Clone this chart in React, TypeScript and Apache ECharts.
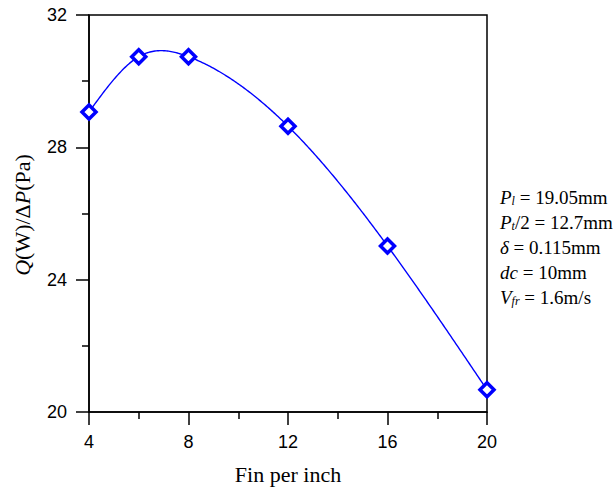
import React, { useEffect, useRef } from "react";
import * as echarts from "echarts";

const finPerInch = [4, 6, 8, 12, 16, 20];
const qOverDp = [29.07, 30.74, 30.74, 28.64, 25.02, 20.67];
const xTicks = [4, 8, 12, 16, 20];
const yTicks = [20, 24, 28, 32];

const BLUE = "#0000ff";
const SERIF = "Liberation Serif";
const SANS = "Liberation Sans";

function naturalSpline(xs: number[], ys: number[]) {
  const n = xs.length;
  const h: number[] = [];
  for (let i = 0; i < n - 1; i++) h.push(xs[i + 1] - xs[i]);
  const a: number[] = new Array(n).fill(0);
  const b: number[] = new Array(n).fill(1);
  const c: number[] = new Array(n).fill(0);
  const d: number[] = new Array(n).fill(0);
  for (let i = 1; i < n - 1; i++) {
    a[i] = h[i - 1];
    b[i] = 2 * (h[i - 1] + h[i]);
    c[i] = h[i];
    d[i] = 6 * ((ys[i + 1] - ys[i]) / h[i] - (ys[i] - ys[i - 1]) / h[i - 1]);
  }
  const cp = new Array(n).fill(0);
  const dp = new Array(n).fill(0);
  cp[0] = c[0] / b[0];
  dp[0] = d[0] / b[0];
  for (let i = 1; i < n; i++) {
    const m = b[i] - a[i] * cp[i - 1];
    cp[i] = c[i] / m;
    dp[i] = (d[i] - a[i] * dp[i - 1]) / m;
  }
  const M = new Array(n).fill(0);
  M[n - 1] = dp[n - 1];
  for (let i = n - 2; i >= 0; i--) M[i] = dp[i] - cp[i] * M[i + 1];
  return (x: number) => {
    let i = 0;
    while (i < n - 2 && x > xs[i + 1]) i++;
    const hi = h[i];
    const t1 = xs[i + 1] - x;
    const t0 = x - xs[i];
    return (
      (M[i] * t1 * t1 * t1) / (6 * hi) +
      (M[i + 1] * t0 * t0 * t0) / (6 * hi) +
      (ys[i] / hi - (M[i] * hi) / 6) * t1 +
      (ys[i + 1] / hi - (M[i + 1] * hi) / 6) * t0
    );
  };
}

export default function App() {
  const ref = useRef<HTMLDivElement>(null);
  useEffect(() => {
    if (!ref.current) return;
    const chart = echarts.init(ref.current, null, { renderer: "svg" });
    const data = finPerInch.map((x, i) => [x, qOverDp[i]]);
    const spline = naturalSpline(finPerInch, qOverDp);
    const sub = { fontFamily: SERIF, fontSize: 12, fontStyle: "italic", padding: [8, 0, 0, 0], fill: "#000" };
    const it = { fontFamily: SERIF, fontSize: 19, fontStyle: "italic", fill: "#000" };
    const nm = { fontFamily: SERIF, fontSize: 19, fill: "#000" };
    const rich = { it, sub, nm };
    const lines = [
      "{it|P}{sub|l}{nm| = 19.05mm}",
      "{it|P}{sub|t}{nm|/2 = 12.7mm}",
      "{it|δ}{nm| = 0.115mm}",
      "{it|dc}{nm| = 10mm}",
      "{it|V}{sub|fr}{nm| = 1.6m/s}",
    ];
    const axisCommon = {
      axisLine: { show: true, lineStyle: { color: "#000", width: 1.5 } },
      axisTick: { show: true, inside: false, length: 13, lineStyle: { color: "#000", width: 1.5 } },
      minorTick: { show: true, splitNumber: 2, length: 7, lineStyle: { color: "#000", width: 1.5 } },
      splitLine: { show: false },
    };
    chart.setOption({
      animation: false,
      grid: {
        left: 89,
        right: 129,
        top: 15,
        bottom: 79,
        show: true,
        borderColor: "#000",
        borderWidth: 1.5,
        backgroundColor: "transparent",
      },
      xAxis: {
        type: "value",
        min: xTicks[0],
        max: xTicks[xTicks.length - 1],
        interval: 4,
        ...axisCommon,
        axisLabel: { color: "#000", fontFamily: SANS, fontSize: 18, margin: 21 },
        name: "Fin per inch",
        nameLocation: "middle",
        nameGap: 51,
        nameTextStyle: { color: "#000", fontFamily: SERIF, fontSize: 22 },
      },
      yAxis: {
        type: "value",
        min: yTicks[0],
        max: yTicks[yTicks.length - 1],
        interval: 4,
        ...axisCommon,
        axisLabel: { color: "#000", fontFamily: SANS, fontSize: 18, margin: 22 },
      },
      graphic: [
        {
          type: "text",
          x: 22,
          y: 215,
          rotation: Math.PI / 2,
          style: {
            text: "{it|Q}{nm|(W)/Δ}{it|P}{nm|(Pa)}",
            align: "center",
            verticalAlign: "middle",
            rich: {
              it: { fontFamily: SERIF, fontSize: 22, fontStyle: "italic", fill: "#000" },
              nm: { fontFamily: SERIF, fontSize: 22, fill: "#000" },
            },
          },
        },
        ...lines.map((t, i) => ({
          type: "text",
          x: 500,
          y: 197 + i * 25,
          style: {
            text: t,
            align: "left",
            verticalAlign: "middle",
            rich,
          },
        })),
      ],
      series: [
        {
          type: "custom",
          data,
          renderItem: (params: any, api: any) => {
            if (params.dataIndex !== 0) return null;
            const pts: number[][] = [];
            const x0 = finPerInch[0];
            const x1 = finPerInch[finPerInch.length - 1];
            const steps = 320;
            for (let k = 0; k <= steps; k++) {
              const x = x0 + ((x1 - x0) * k) / steps;
              pts.push(api.coord([x, spline(x)]));
            }
            return {
              type: "polyline",
              shape: { points: pts },
              style: { stroke: BLUE, lineWidth: 1.4, fill: null },
            };
          },
          z: 3,
        },
        {
          type: "scatter",
          data,
          symbol: "diamond",
          symbolSize: 14,
          itemStyle: { color: "#fff", borderColor: BLUE, borderWidth: 3.5, opacity: 1 },
          z: 5,
        },
      ],
    });
    return () => chart.dispose();
  }, []);
  return (
    <div
      ref={ref}
      style={{ position: "absolute", left: 0, top: 0, width: 616, height: 491 }}
    />
  );
}
